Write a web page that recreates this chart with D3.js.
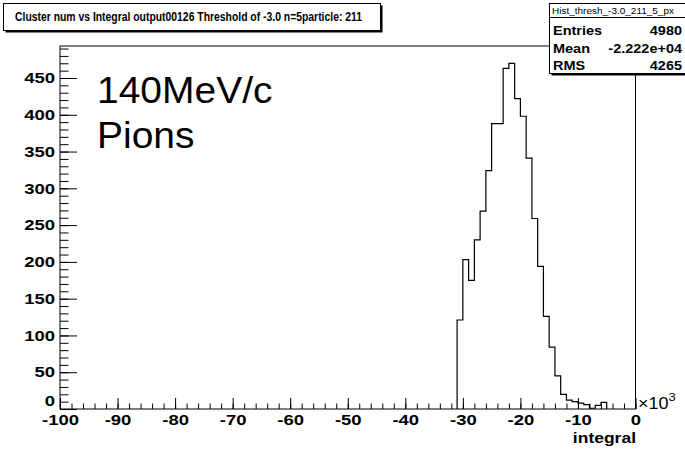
<!DOCTYPE html>
<html>
<head>
<meta charset="UTF-8">
<title>Cluster num vs Integral</title>
<script src="https://cdn.jsdelivr.net/npm/d3@7"></script>
<style>
  body, html { margin:0; padding:0; background:#fff; }
  text { font-family: "Liberation Sans", Arial, Helvetica, sans-serif; fill:#000; }
  .axis path { display:none; }
  .axis line { stroke:#000; stroke-width:1; }
</style>
</head>
<body>
<div id="chart"></div>
<script>
var titleText  = "Cluster num vs Integral output00126 Threshold of -3.0 n=5particle: 211";
var statsName  = "Hist_thresh_-3.0_211_5_px";
var statsLabels = ["Entries", "Mean", "RMS"];
var statsValues = ["4980", "-2.222e+04", "4265"];
var noteLines  = ["140MeV/c", "Pions"];

// histogram bins: low edge of each bin (integral, x10^3) and its count
var binLow   = [-31, -30, -29, -28, -27, -26, -25, -24, -23, -22, -21, -20, -19,
                -18, -17, -16, -15, -14, -13, -12, -11, -10, -9, -8, -7, -6];
var binCount = [121, 203, 175, 230, 269, 324, 388, 388, 463, 470, 422, 398, 341,
                259, 194, 126, 84, 45, 20, 12, 10, 8, 6, 1, 5, 9];
var binWidth = 1;

var xTicksMajor = [-100, -90, -80, -70, -60, -50, -40, -30, -20, -10, 0];
var yTicksMajor = [0, 50, 100, 150, 200, 250, 300, 350, 400, 450];

var W = 685, H = 450;
var frame = { left: 60, top: 46, right: 635.5, bottom: 409 };
var squeeze = 0.88;   // text in the original is a bit flattened
var labSqueeze = 0.8;

var svg = d3.select('#chart').append('svg').attr('width', W).attr('height', H);

var x = d3.scaleLinear().domain([-100, 0]).range([frame.left, frame.right]);
var y = d3.scaleLinear().domain([0, 1.05 * d3.max(binCount)]).range([frame.bottom, frame.top]);
var plain = function(d) { return String(d); };   // keep the ascii hyphen as minus

// frame
svg.append('rect')
  .attr('x', frame.left).attr('y', frame.top)
  .attr('width', frame.right - frame.left).attr('height', frame.bottom - frame.top)
  .attr('fill', 'none').attr('stroke', '#000').attr('stroke-width', 1);

// histogram outline
var pts = [[binLow[0], 0]];
binLow.forEach(function(b, i) { pts.push([b, binCount[i]]); });
pts.push([binLow[binLow.length - 1] + binWidth, 0]);
var line = d3.line()
  .x(function(d) { return x(d[0]); })
  .y(function(d) { return y(d[1]); })
  .curve(d3.curveStepAfter);
svg.append('path').datum(pts)
  .attr('d', line).attr('fill', 'none')
  .attr('stroke', '#000').attr('stroke-width', 1.2);

// x axis: minor then major ticks (pointing inside)
svg.append('g').attr('class', 'axis')
  .attr('transform', 'translate(0,' + frame.bottom + ')')
  .call(d3.axisBottom(x).tickValues(x.ticks(50)).tickSize(-5.5).tickFormat(''));
var gx = svg.append('g').attr('class', 'axis')
  .attr('transform', 'translate(0,' + frame.bottom + ')')
  .call(d3.axisBottom(x).tickValues(xTicksMajor).tickSize(-11).tickPadding(7).tickFormat(plain));
gx.selectAll('text')
  .style('font-size', '18.5px').style('font-weight', 'bold')
  .attr('transform', 'scale(1,' + labSqueeze + ')');

// y axis
svg.append('g').attr('class', 'axis')
  .attr('transform', 'translate(' + frame.left + ',0)')
  .call(d3.axisLeft(y).tickValues(y.ticks(50)).tickSize(-8.5).tickFormat(''));
var gy = svg.append('g').attr('class', 'axis')
  .attr('transform', 'translate(' + frame.left + ',0)')
  .call(d3.axisLeft(y).tickValues(yTicksMajor).tickSize(-17).tickPadding(5).tickFormat(plain));
gy.selectAll('text')
  .style('font-size', '18.5px').style('font-weight', 'bold')
  .attr('transform', 'scale(1,' + labSqueeze + ')')
  .attr('y', function(d) { return d === 0 ? -10 : 0; });

// x10^3 and axis title
var exp = svg.append('text')
  .attr('transform', 'translate(638,409) scale(1,' + squeeze + ')')
  .style('font-size', '18px');
exp.append('tspan').text('\u00d710');
exp.append('tspan').attr('dy', -9).style('font-size', '13px').text('3');

svg.append('text')
  .attr('transform', 'translate(636,443) scale(1,' + labSqueeze + ')')
  .attr('text-anchor', 'end')
  .style('font-size', '17.5px').style('font-weight', 'bold')
  .text('integral');

// note in the pad
svg.selectAll('.note').data(noteLines).enter().append('text')
  .attr('class', 'note')
  .attr('transform', function(d, i) { return 'translate(97,' + (103 + i * 45) + ') scale(1,0.93)'; })
  .style('font-size', '39px')
  .text(function(d) { return d; });

// boxes with a drop shadow
function box(x0, y0, w, h) {
  svg.append('rect').attr('x', x0 + 2).attr('y', y0 + 2).attr('width', w).attr('height', h).attr('fill', '#000');
  svg.append('rect').attr('x', x0).attr('y', y0).attr('width', w).attr('height', h)
    .attr('fill', '#fff').attr('stroke', '#000').attr('stroke-width', 1);
}
box(3.5, 3.5, 377, 27);
svg.append('text')
  .attr('x', 15).attr('y', 21)
  .attr('textLength', 347).attr('lengthAdjust', 'spacingAndGlyphs')
  .style('font-size', '12px').style('font-weight', 'bold')
  .text(titleText);

// stats box
box(549.5, 3.5, 140, 70);
svg.append('line').attr('x1', 549.5).attr('x2', 690).attr('y1', 17.5).attr('y2', 17.5).attr('stroke', '#000');
svg.append('text')
  .attr('transform', 'translate(552,14) scale(1,0.9)')
  .style('font-size', '10px')
  .text(statsName);
statsLabels.forEach(function(l, i) {
  var yy = 35 + i * 17.5;
  svg.append('text').attr('transform', 'translate(553,' + yy + ') scale(1,' + squeeze + ')')
    .style('font-size', '14.5px').style('font-weight', 'bold').text(l);
  svg.append('text').attr('transform', 'translate(682,' + yy + ') scale(1,' + squeeze + ')')
    .attr('text-anchor', 'end')
    .style('font-size', '14.5px').style('font-weight', 'bold').text(statsValues[i]);
});
</script>
</body>
</html>
